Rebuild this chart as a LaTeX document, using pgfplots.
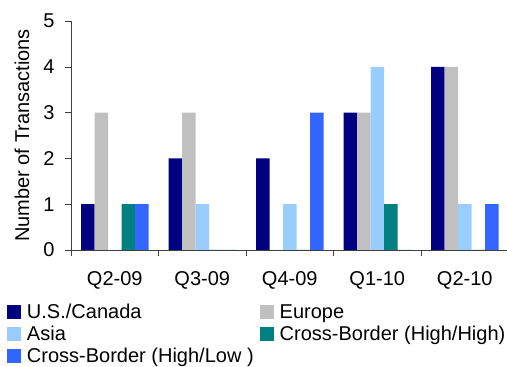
\documentclass[border=0pt]{standalone}
\usepackage{pgfplots}
\pgfplotsset{compat=1.18}
\usepackage{fontspec}
\setmainfont{Liberation Sans}
\definecolor{cNavy}{HTML}{000080}
\definecolor{cGray}{HTML}{C0C0C0}
\definecolor{cLight}{HTML}{99CCFF}
\definecolor{cTeal}{HTML}{008080}
\definecolor{cBlue}{HTML}{3366FF}
\pgfplotsset{sqlegend/.style={legend image code/.code={\fill[##1] (0pt,-3.5pt) rectangle (7pt,3.5pt);}}}
\begin{document}
\begin{tikzpicture}
\begin{axis}[
  at={(35.5pt,58.5pt)}, anchor=south west,
  scale only axis, width=218.75pt, height=114.5pt,
  xmin=-0.5, xmax=4.5, ymin=0, ymax=5,
  axis lines=left, axis line style={-, black!75},
  font=\fontsize{10}{12}\selectfont,
  /pgf/number format/assume math mode=true,
  ybar=0pt, bar width=6.75pt,
  ytick={0,1,2,3,4,5},
  xtick={0,1,2,3,4},
  xticklabels={Q2-09,Q3-09,Q4-09,Q1-10,Q2-10},
  major x tick style={draw=none},
  minor xtick={-0.5,0.5,1.5,2.5,3.5,4.5},
  minor x tick style={draw=black!75},
  tick align=outside,
  major tick length=3pt, minor tick length=3pt,
  ytick style={draw=black!75},
  xticklabel style={anchor=base, yshift=-15pt},
  yticklabel style={anchor=east, inner sep=0pt, xshift=-5pt},
  ylabel={Number of Transactions},
  ylabel style={at={(axis description cs:-0.1120,0.5)}, anchor=center},
  legend columns=2,
  legend cell align=left,
  legend style={draw=none, fill=none, inner sep=0pt, outer sep=0pt,
    at={(-0.1463,-0.2230)}, anchor=north west,
    font=\fontsize{10}{12}\selectfont,
    nodes={inner sep=0pt, text height=8.75pt, text depth=2.25pt},
    /tikz/every odd column/.append style={column sep=3pt},
    /tikz/every even column/.append style={column sep=3pt}},
]
\addplot[fill=cNavy, draw=none, sqlegend] coordinates {(0,1) (1,2) (2,2) (3,3) (4,4)};
\addlegendentry{U.S./Canada}
\addplot[fill=cGray, draw=none, sqlegend] coordinates {(0,3) (1,3) (2,0) (3,3) (4,4)};
\addlegendentry{Europe}
\addplot[fill=cLight, draw=none, sqlegend] coordinates {(0,0) (1,1) (2,1) (3,4) (4,1)};
\addlegendentry{Asia}
\addplot[fill=cTeal, draw=none, sqlegend] coordinates {(0,1) (1,0) (2,0) (3,1) (4,0)};
\addlegendentry{Cross-Border (High/High)}
\addplot[fill=cBlue, draw=none, sqlegend] coordinates {(0,1) (1,0) (2,3) (3,0) (4,1)};
\addlegendentry{Cross-Border (High/Low )}
\end{axis}
\pgfresetboundingbox
\path[use as bounding box] (0,0) rectangle (253.5pt,183.5pt);
\end{tikzpicture}
\end{document}
